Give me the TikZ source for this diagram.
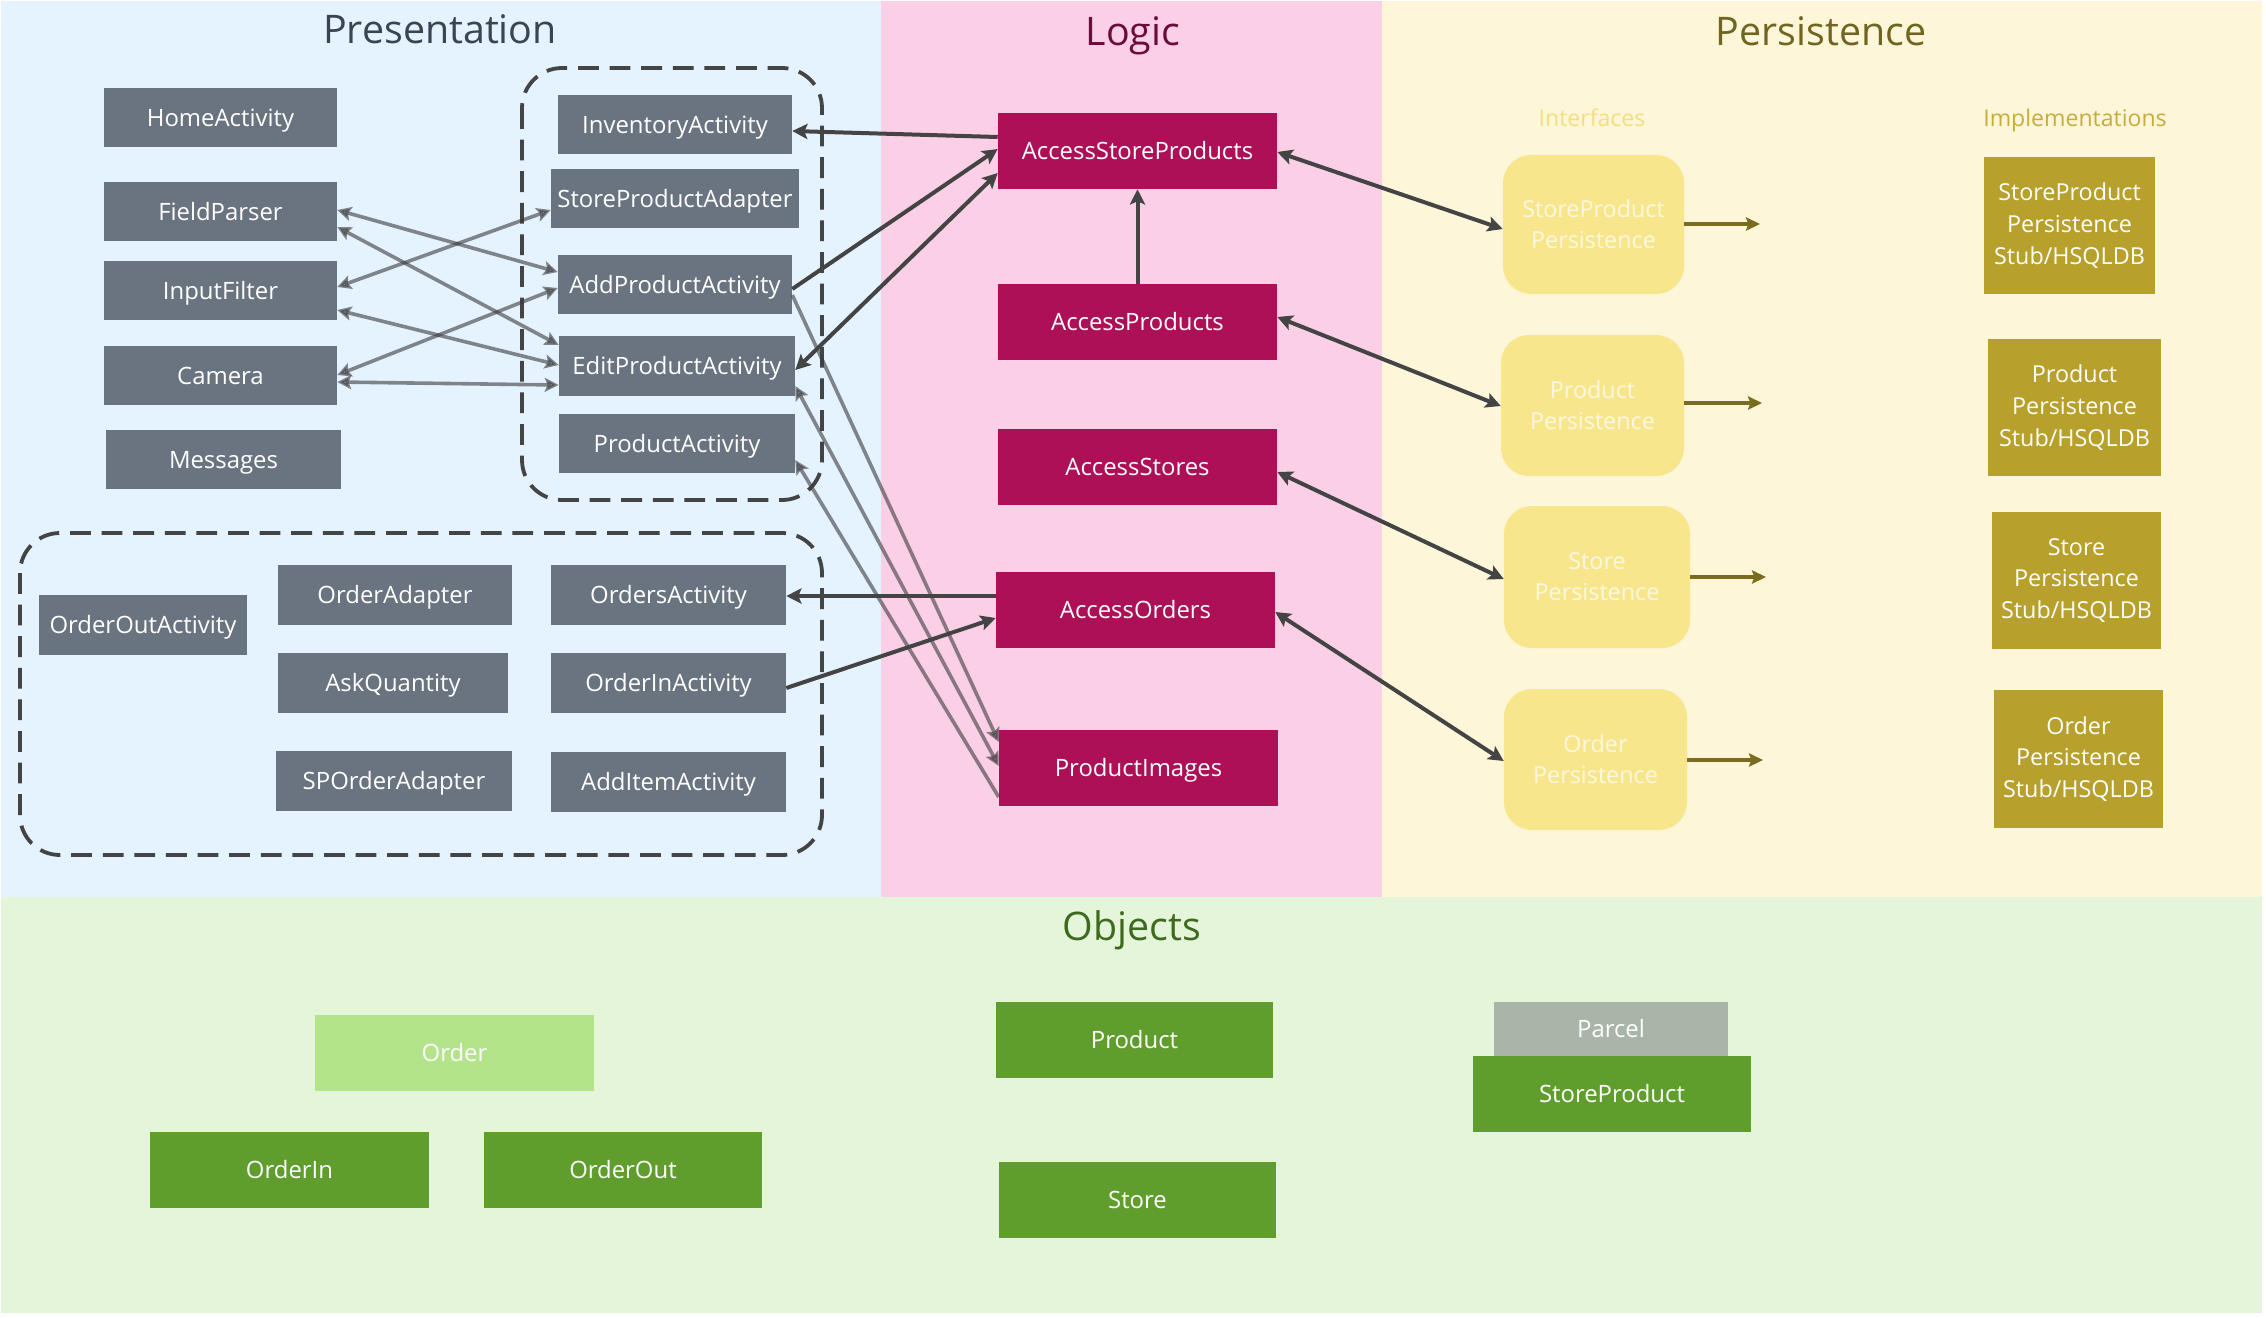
\documentclass[tikz,border=0pt]{standalone}
\usepackage{fontspec}
\setmainfont{Open Sans}
\usetikzlibrary{arrows.meta,calc}
\definecolor{presbg}{HTML}{E5F2FF}
\definecolor{logbg}{HTML}{FBD0E6}
\definecolor{persbg}{HTML}{FDF6D8}
\definecolor{objbg}{HTML}{E4F5DA}
\definecolor{presnode}{HTML}{6A7480}
\definecolor{lognode}{HTML}{AD1057}
\definecolor{ifnode}{HTML}{F8E68D}
\definecolor{impnode}{HTML}{B8A02C}
\definecolor{objnode}{HTML}{5F9E2D}
\definecolor{objlight}{HTML}{B3E48A}
\definecolor{parcelc}{HTML}{A8B5A8}
\definecolor{dkline}{HTML}{444444}
\definecolor{grline}{HTML}{3C3C3C}
\definecolor{oliveline}{HTML}{7B6B1E}
\definecolor{prest}{HTML}{3A4550}
\definecolor{logt}{HTML}{6B0B3E}
\definecolor{perst}{HTML}{6F6420}
\definecolor{objt}{HTML}{3D6A1E}
\definecolor{iflabel}{HTML}{F5DE7E}
\definecolor{implabel}{HTML}{C7AE3C}
\definecolor{iftext}{HTML}{FFF8E0}
\tikzset{
  wh/.style 2 args={minimum width=#1*0.25mm, minimum height=#2*0.25mm},
  box/.style={rectangle, inner sep=0pt, text=white, font=\fontsize{17}{20}\selectfont, text height=12.2pt, text depth=0pt},
  pres/.style={box, fill=presnode},
  logic/.style={box, fill=lognode, font=\fontsize{17}{20}\selectfont, text height=12.3pt, wh={279}{76}},
  iface/.style={rectangle, rounded corners=7mm, fill=ifnode, text=iftext, align=center, inner sep=0pt, font=\fontsize{16.6}{22}\selectfont},
  impl/.style={rectangle, fill=impnode, text=white, align=center, inner sep=0pt, font=\fontsize{16.6}{22.5}\selectfont},
  obj/.style={box, fill=objnode},
  title/.style={anchor=base, font=\fontsize{28}{30}\selectfont},
  sublabel/.style={anchor=base, font=\fontsize{16.4}{20}\selectfont},
  dkarrow/.style={draw=dkline, line width=1mm, >={Stealth[length=3.8mm,width=3.8mm,inset=0.8mm]}},
  grarrow/.style={draw=grline, draw opacity=0.6, fill opacity=0.6, line width=0.9mm, >={Stealth[length=3.5mm,width=3.5mm,inset=0.7mm]}},
  olarrow/.style={draw=oliveline, line width=0.95mm, >={Stealth[length=3.5mm,width=3.3mm,inset=0.6mm]}},
  dashbox/.style={draw=dkline, line width=0.95mm, dash pattern=on 5.2mm off 2.7mm, rounded corners=10mm},
}
\begin{document}
\begin{tikzpicture}[x=0.25mm,y=-0.25mm]
\useasboundingbox (0,0) rectangle (2266,1317);
% backgrounds
\fill[white] (0,0) rectangle (2266,1317);
\fill[presbg] (1,1) rectangle (881,897);
\fill[logbg] (881,1) rectangle (1382,897);
\fill[persbg] (1382,1) rectangle (2262,897);
\fill[objbg] (1,897) rectangle (2262,1313);
% titles
\node[title, text=prest] (tpres) at (440,43) {Presentation};
\node[title, text=logt] (tlog) at (1133,45) {Logic};
\node[title, text=perst] (tpers) at (1821,45) {Persistence};
\node[title, text=objt] (tobj) at (1132,940) {Objects};
\node[sublabel, text=iflabel] (lif) at (1592,126) {Interfaces};
\node[sublabel, text=implabel] (limp) at (2075,126) {Implementations};
% dashed groups
\draw[dashbox] (522,68) rectangle (822,500);
\draw[dashbox] (20,533) rectangle (822,855);
% presentation nodes
\node[pres, wh={233}{59}] (home) at (220.5,117.5) {HomeActivity};
\node[pres, wh={233}{59}] (field) at (220.5,211.5) {FieldParser};
\node[pres, wh={233}{59}] (input) at (220.5,290.5) {InputFilter};
\node[pres, wh={233}{59}] (camera) at (220.5,375.5) {Camera};
\node[pres, wh={235}{59}] (msg) at (223.5,459.5) {Messages};
\node[pres, wh={234}{59}] (inv) at (675,124.5) {InventoryActivity};
\node[pres, wh={248}{59}] (spa) at (675,198.5) {StoreProductAdapter};
\node[pres, wh={234}{59}] (addp) at (675,284.5) {AddProductActivity};
\node[pres, wh={236}{60}] (editp) at (677,366) {EditProductActivity};
\node[pres, wh={236}{59}] (prodact) at (677,443.5) {ProductActivity};
\node[pres, wh={208}{60}] (orderout) at (143,625) {OrderOutActivity};
\node[pres, wh={234}{60}] (orderad) at (395,595) {OrderAdapter};
\node[pres, wh={235}{60}] (ordersact) at (668.5,595) {OrdersActivity};
\node[pres, wh={230}{60}] (askq) at (393,683) {AskQuantity};
\node[pres, wh={235}{60}] (orderin) at (668.5,683) {OrderInActivity};
\node[pres, wh={236}{60}] (sporder) at (394,781) {SPOrderAdapter};
\node[pres, wh={235}{60}] (additem) at (668.5,782) {AddItemActivity};
% logic nodes
\node[logic] (asp) at (1137.5,151) {AccessStoreProducts};
\node[logic] (ap) at (1137.5,322) {AccessProducts};
\node[logic] (as) at (1137.5,467) {AccessStores};
\node[logic] (ao) at (1135.5,610) {AccessOrders};
\node[logic] (pi) at (1138.5,767.5) {ProductImages};
% persistence interfaces
\node[iface, wh={181}{139}] (spp) at (1593.5,224.5) {StoreProduct\\Persistence};
\node[iface, wh={183}{141}] (pp) at (1592.5,405.5) {Product\\Persistence};
\node[iface, wh={186}{142}] (sp) at (1597,577) {Store\\Persistence};
\node[iface, wh={183}{141}] (op) at (1595.5,759.5) {Order\\Persistence};
% implementations
\node[impl, wh={171}{137}] (ispp) at (2069.5,225.5) {StoreProduct\\Persistence\\Stub/HSQLDB};
\node[impl, wh={173}{137}] (ipp) at (2074.5,407.5) {Product\\Persistence\\Stub/HSQLDB};
\node[impl, wh={169}{137}] (isp) at (2076.5,580.5) {Store\\Persistence\\Stub/HSQLDB};
\node[impl, wh={169}{138}] (iop) at (2078.5,759) {Order\\Persistence\\Stub/HSQLDB};
% objects
\node[box, fill=objlight, wh={279}{76}] (order) at (454.5,1053) {Order};
\node[obj, wh={279}{76}] (oin) at (289.5,1170) {OrderIn};
\node[obj, wh={278}{76}] (oout) at (623,1170) {OrderOut};
\node[obj, wh={277}{76}] (product) at (1134.5,1040) {Product};
\node[obj, wh={277}{76}] (store) at (1137.5,1200) {Store};
\node[box, fill=parcelc, wh={234}{54}] (parcel) at (1611,1029) {Parcel};
\node[obj, wh={278}{76}] (sprod) at (1612,1094) {StoreProduct};
% free ends of interface arrows
\coordinate (e1) at (1760,224);
\coordinate (e2) at (1762,403);
\coordinate (e3) at (1766,577);
\coordinate (e4) at (1763,760);
% grey connectors in presentation
\draw[grarrow,<->] (field.east |- 0,210) -- (addp.west |- 0,272);
\draw[grarrow,<->] (field.east |- 0,227) -- (editp.west |- 0,345);
\draw[grarrow,<->] (input.east |- 0,287) -- (spa.west |- 0,210);
\draw[grarrow,<->] (input.east |- 0,310) -- (editp.west |- 0,365);
\draw[grarrow,<->] (camera.east |- 0,375) -- (addp.west |- 0,288);
\draw[grarrow,<->] (camera.east |- 0,382) -- (editp.west |- 0,385);
\draw[grarrow,->] (addp.east |- 0,295) -- (pi.west |- 0,742);
\draw[grarrow,<->] (editp.east |- 0,386) -- (pi.west |- 0,766);
\draw[grarrow,->] (pi.west |- 0,797) -- (prodact.east |- 0,460);
% dark connectors
\draw[dkarrow,->] (asp.west |- 0,137) -- (inv.east |- 0,131);
\draw[dkarrow,->] (addp.east |- 0,289) -- (asp.west |- 0,149);
\draw[dkarrow,<->] (editp.east |- 0,370) -- (asp.west |- 0,173);
\draw[dkarrow,->] (ap.north) -- (asp.south);
\draw[dkarrow,->] (ao.west |- 0,596) -- (ordersact.east |- 0,596);
\draw[dkarrow,->] (orderin.east |- 0,688) -- (ao.west |- 0,618);
\draw[dkarrow,<->] (asp.east |- 0,152) -- (spp.west |- 0,229);
\draw[dkarrow,<->] (ap.east |- 0,317) -- (pp.west |- 0,406);
\draw[dkarrow,<->] (as.east |- 0,472) -- (sp.west |- 0,579);
\draw[dkarrow,<->] (ao.east |- 0,612) -- (op.west |- 0,761);
% interface to implementation arrows
\draw[olarrow,->] (spp.east |- e1) -- (e1);
\draw[olarrow,->] (pp.east |- e2) -- (e2);
\draw[olarrow,->] (sp.east |- e3) -- (e3);
\draw[olarrow,->] (op.east |- e4) -- (e4);
\end{tikzpicture}
\end{document}
